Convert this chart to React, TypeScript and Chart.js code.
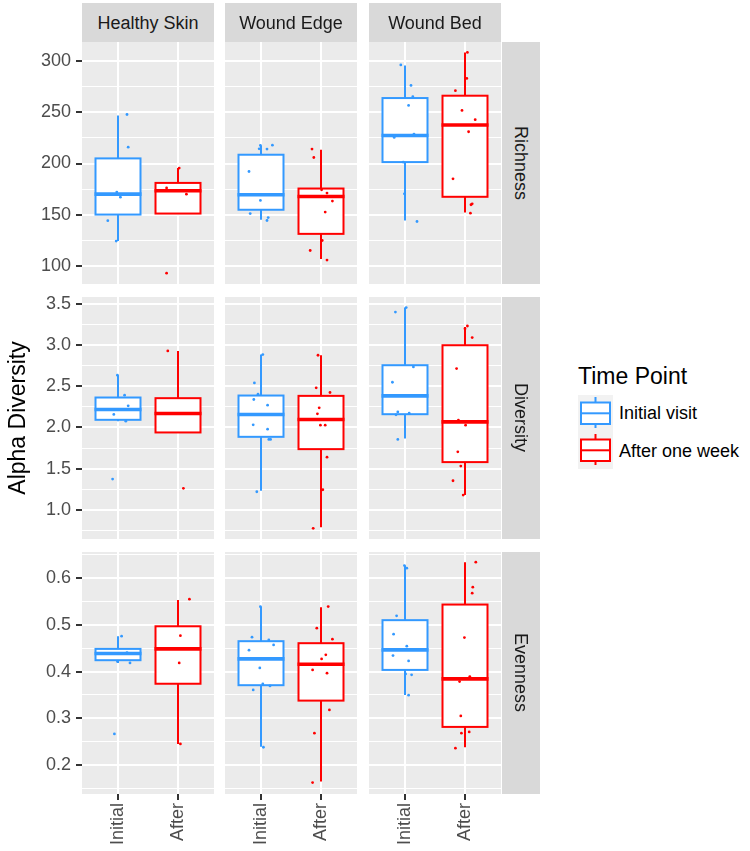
import React, { useEffect, useRef } from "react";
import { Chart, registerables } from "chart.js";

Chart.register(...registerables);

const FONT = "'Liberation Sans', Arial, Helvetica, sans-serif";

const sites = ["Healthy Skin", "Wound Edge", "Wound Bed"];
const metrics = ["Richness", "Diversity", "Evenness"];
const groups = ["Initial", "After"];
const legendLabels = ["Initial visit", "After one week"];
const groupColors = ["#3399FF", "#FF0000"];

// y-axis ranges per metric row
const richnessRange = [82, 319];
const diversityRange = [0.65, 3.58];
const evennessRange = [0.138, 0.656];

const richnessMajor = [100, 150, 200, 250, 300];
const richnessMinor = [125, 175, 225, 275];
const richnessLabels = ["100", "150", "200", "250", "300"];
const diversityMajor = [1.0, 1.5, 2.0, 2.5, 3.0, 3.5];
const diversityMinor = [0.75, 1.25, 1.75, 2.25, 2.75, 3.25];
const diversityLabels = ["1.0", "1.5", "2.0", "2.5", "3.0", "3.5"];
const evennessMajor = [0.2, 0.3, 0.4, 0.5, 0.6];
const evennessMinor = [0.15, 0.25, 0.35, 0.45, 0.55, 0.65];
const evennessLabels = ["0.2", "0.3", "0.4", "0.5", "0.6"];

// box stats per site: [lower whisker, Q1, median, Q3, upper whisker]
const richnessInitialBox = [
  [124, 150, 170, 205, 247],
  [145, 154.7, 169.4, 208.6, 217.7],
  [144.2, 201.4, 227.5, 264.1, 296.1],
];
const richnessAfterBox = [
  [151, 151, 173.3, 181, 195.5],
  [106.4, 131.1, 167.7, 175.5, 213.5],
  [152, 167.4, 237.7, 266.4, 308.8],
];
const diversityInitialBox = [
  [2.077, 2.093, 2.218, 2.363, 2.633],
  [1.234, 1.887, 2.157, 2.387, 2.883],
  [1.867, 2.161, 2.383, 2.754, 3.452],
];
const diversityAfterBox = [
  [1.94, 1.94, 2.17, 2.355, 2.927],
  [0.791, 1.738, 2.097, 2.383, 2.875],
  [1.182, 1.581, 2.068, 2.996, 3.217],
];
const evennessInitialBox = [
  [0.4186, 0.4244, 0.4386, 0.4486, 0.4758],
  [0.2394, 0.3709, 0.4272, 0.4651, 0.5392],
  [0.3501, 0.4036, 0.4465, 0.5101, 0.627],
];
const evennessAfterBox = [
  [0.245, 0.374, 0.4486, 0.497, 0.5535],
  [0.1645, 0.3379, 0.4158, 0.4608, 0.5379],
  [0.2381, 0.2816, 0.3844, 0.5435, 0.6343],
];

// individual samples per site
const richnessInitialPts = [
  [248, 216, 172, 167, 144, 124],
  [218, 214.4, 214.1, 217.7, 192.2, 163.8, 151, 147.1, 144.2],
  [296.5, 276.5, 265.4, 256.9, 225.5, 228.8, 201.4, 170.3, 143.2],
];
const richnessInitialJitter = [
  [0.15, 0.17, -0.02, 0.04, -0.17, -0.03],
  [0.19, -0.03, 0.1, -0.01, -0.2, -0.01, -0.18, 0.12, 0.1],
  [-0.07, 0.1, 0.13, 0.06, -0.18, 0.15, -0.03, -0.01, 0.2],
];
const richnessAfterPts = [
  [195.5, 176, 170, 92.6],
  [214.1, 205.9, 174.3, 171, 163.2, 152.4, 124.6, 114.8, 105.4],
  [308.8, 283.3, 271.3, 252, 242.9, 231.1, 185, 160.5, 159.6, 151.4],
];
const richnessAfterJitter = [
  [0.02, -0.19, 0.14, -0.19],
  [-0.15, -0.12, 0.01, 0.1, 0.19, 0.07, 0.02, -0.18, 0.1],
  [0.04, 0.03, -0.16, -0.05, 0.17, 0.06, -0.2, 0.12, 0.1, 0.09],
];
const diversityInitialPts = [
  [2.633, 2.391, 2.262, 2.158, 2.077, 1.376],
  [2.883, 2.54, 2.403, 2.339, 2.27, 2.032, 1.98, 1.856, 1.856, 1.222],
  [3.398, 2.733, 2.548, 2.189, 2.174, 2.153, 1.855, 3.452],
];
const diversityInitialJitter = [
  [-0.01, 0.11, 0.17, -0.07, 0.13, -0.09],
  [0.03, -0.11, -0.05, -0.12, 0.11, -0.13, 0.11, 0.13, 0.16, -0.07],
  [-0.16, 0.14, -0.21, -0.12, 0.07, -0.15, -0.12, 0.02],
];
const diversityAfterPts = [
  [2.927, 1.263],
  [2.875, 2.48, 2.424, 2.238, 2.165, 2.028, 2.028, 1.641, 1.246, 0.779],
  [3.229, 3.197, 3.089, 2.714, 2.089, 2.028, 1.706, 1.533, 1.355, 1.182],
];
const diversityAfterJitter = [
  [-0.17, 0.09],
  [-0.05, -0.08, 0.15, -0.03, -0.06, -0.01, 0.07, 0.1, 0.03, -0.13],
  [0.04, 0.0, 0.12, -0.14, -0.11, 0.01, -0.12, -0.07, -0.2, -0.03],
];
const evennessInitialPts = [
  [0.4758, 0.4407, 0.4214, 0.4186, 0.2666],
  [0.4737, 0.4679, 0.4572, 0.4458, 0.4079, 0.3737, 0.3694, 0.3608, 0.2381, 0.539],
  [0.627, 0.6214, 0.5193, 0.48, 0.4544, 0.4343, 0.4229, 0.395, 0.393, 0.3495],
];
const evennessInitialJitter = [
  [0.06, 0.15, -0.01, 0.2, -0.06],
  [-0.15, 0.13, 0.21, -0.2, -0.02, 0.03, 0.15, -0.13, 0.04, -0.01],
  [-0.01, 0.03, -0.14, -0.19, 0.03, -0.2, 0.06, 0.01, 0.11, 0.06],
];
const evennessAfterPts = [
  [0.555, 0.477, 0.4186, 0.2452],
  [0.5392, 0.4929, 0.4694, 0.4358, 0.4272, 0.4036, 0.3966, 0.318, 0.2681, 0.1624],
  [0.6343, 0.5807, 0.5679, 0.4728, 0.3893, 0.3786, 0.3051, 0.2681, 0.2709, 0.236],
];
const evennessAfterJitter = [
  [0.19, 0.04, 0.02, 0.04],
  [0.12, -0.07, 0.19, 0.08, 0.01, -0.14, 0.1, 0.14, -0.11, -0.14],
  [0.18, 0.13, 0.12, -0.01, 0.08, -0.09, -0.07, -0.06, 0.07, -0.16],
];

const rowDefs = [
  {
    range: richnessRange, major: richnessMajor, minor: richnessMinor, labels: richnessLabels,
    boxes: [richnessInitialBox, richnessAfterBox],
    pts: [richnessInitialPts, richnessAfterPts],
    jit: [richnessInitialJitter, richnessAfterJitter],
  },
  {
    range: diversityRange, major: diversityMajor, minor: diversityMinor, labels: diversityLabels,
    boxes: [diversityInitialBox, diversityAfterBox],
    pts: [diversityInitialPts, diversityAfterPts],
    jit: [diversityInitialJitter, diversityAfterJitter],
  },
  {
    range: evennessRange, major: evennessMajor, minor: evennessMinor, labels: evennessLabels,
    boxes: [evennessInitialBox, evennessAfterBox],
    pts: [evennessInitialPts, evennessAfterPts],
    jit: [evennessInitialJitter, evennessAfterJitter],
  },
];

// layout
const colLeft = [82, 225, 369];
const rowTop = [42, 297, 552];
const panelW = 132;
const panelH = 242;
const PAD = 20;
const YAXIS_W = 52;
const XAXIS_H = 57;
const BOX_HALF = 0.375;

function makeBoxPlugin(items: { pos: number; stats: number[]; color: string }[]) {
  return {
    id: "boxes",
    beforeDraw(chart: any) {
      const { ctx, chartArea: a } = chart;
      ctx.save();
      ctx.fillStyle = "#EBEBEB";
      ctx.fillRect(a.left, a.top, a.right - a.left, a.bottom - a.top);
      ctx.restore();
    },
    beforeDatasetsDraw(chart: any) {
      const { ctx, scales } = chart;
      const xs = scales.x;
      const ys = scales.y;
      ctx.save();
      items.forEach(({ pos, stats, color }) => {
        const [lo, q1, med, q3, hi] = stats;
        const xc = xs.getPixelForValue(pos);
        const xl = xs.getPixelForValue(pos - BOX_HALF);
        const xr = xs.getPixelForValue(pos + BOX_HALF);
        const yLo = ys.getPixelForValue(lo);
        const yQ1 = ys.getPixelForValue(q1);
        const yMed = ys.getPixelForValue(med);
        const yQ3 = ys.getPixelForValue(q3);
        const yHi = ys.getPixelForValue(hi);
        ctx.strokeStyle = color;
        ctx.lineWidth = 2;
        ctx.beginPath();
        ctx.moveTo(xc, yHi);
        ctx.lineTo(xc, yQ3);
        ctx.moveTo(xc, yQ1);
        ctx.lineTo(xc, yLo);
        ctx.stroke();
        ctx.fillStyle = "#FFFFFF";
        ctx.fillRect(xl, yQ3, xr - xl, yQ1 - yQ3);
        ctx.strokeRect(xl, yQ3, xr - xl, yQ1 - yQ3);
        ctx.lineWidth = 3.6;
        ctx.beginPath();
        ctx.moveTo(xl - 1, yMed);
        ctx.lineTo(xr + 1, yMed);
        ctx.stroke();
      });
      ctx.restore();
    },
  };
}

function Panel({ r, c }: { r: number; c: number }) {
  const ref = useRef<HTMLCanvasElement>(null);
  const isLeft = c === 0;
  const isBottom = r === 2;
  const left = colLeft[c] - (isLeft ? YAXIS_W : PAD);
  const top = rowTop[r] - PAD;
  const width = colLeft[c] + panelW + PAD - left;
  const height = rowTop[r] + panelH + (isBottom ? XAXIS_H : PAD) - top;

  useEffect(() => {
    const def = rowDefs[r];
    const isMajor = (v: number) => def.major.some((t) => Math.abs(t - v) < 1e-9);
    const allTicks = [...def.major, ...def.minor].sort((a, b) => a - b);
    const items = groups.map((g, gi) => ({
      pos: gi + 1,
      stats: def.boxes[gi][c],
      color: groupColors[gi],
    }));
    const datasets = groups.map((g, gi) => ({
      label: legendLabels[gi],
      data: def.pts[gi][c].map((v: number, i: number) => ({ x: gi + 1 + def.jit[gi][c][i], y: v })),
      backgroundColor: groupColors[gi],
      borderWidth: 0,
      pointRadius: 1.4,
      pointHoverRadius: 1.4,
    }));
    const chart = new Chart(ref.current as HTMLCanvasElement, {
      type: "scatter",
      data: { datasets },
      options: {
        responsive: false,
        animation: false,
        events: [],
        layout: {
          padding: {
            left: isLeft ? 0 : PAD,
            right: PAD,
            top: PAD,
            bottom: isBottom ? 0 : PAD,
          },
        },
        plugins: { legend: { display: false }, tooltip: { enabled: false } },
        scales: {
          x: {
            type: "linear",
            min: 0.4,
            max: 2.6,
            afterBuildTicks: (s: any) => {
              s.ticks = groups.map((g, i) => ({ value: i + 1 }));
            },
            afterFit: (s: any) => {
              s.height = isBottom ? XAXIS_H : 0;
            },
            border: { display: false },
            grid: {
              color: "#FFFFFF",
              lineWidth: 2,
              drawTicks: isBottom,
              tickLength: 6,
              tickColor: "#333333",
              tickWidth: 2,
            },
            ticks: {
              display: isBottom,
              autoSkip: false,
              minRotation: 90,
              maxRotation: 90,
              padding: 3,
              color: "#4D4D4D",
              font: { family: FONT, size: 18 },
              callback: (v: any) => {
                const i = Math.round(Number(v)) - 1;
                return groups[i] ?? "";
              },
            },
          },
          y: {
            type: "linear",
            min: def.range[0],
            max: def.range[1],
            afterBuildTicks: (s: any) => {
              s.ticks = allTicks.map((v) => ({ value: v }));
            },
            afterFit: (s: any) => {
              s.width = isLeft ? YAXIS_W : 0;
            },
            border: { display: false },
            grid: {
              color: "#FFFFFF",
              lineWidth: (ctx: any) => (ctx.tick && isMajor(ctx.tick.value) ? 2 : 1),
              drawTicks: isLeft,
              tickLength: 6,
              tickColor: (ctx: any) => (ctx.tick && isMajor(ctx.tick.value) ? "#333333" : "rgba(0,0,0,0)"),
              tickWidth: 2,
            },
            ticks: {
              display: isLeft,
              autoSkip: false,
              padding: 5,
              color: "#4D4D4D",
              font: { family: FONT, size: 18 },
              callback: (v: any) => {
                const i = def.major.findIndex((t) => Math.abs(t - Number(v)) < 1e-9);
                return i >= 0 ? def.labels[i] : "";
              },
            },
          },
        },
      },
      plugins: [makeBoxPlugin(items)],
    } as any);
    return () => chart.destroy();
  }, [r, c]);

  return (
    <canvas
      ref={ref}
      width={width}
      height={height}
      style={{ position: "absolute", left, top, width, height }}
    />
  );
}

function LegendKey({ color, top }: { color: string; top: number }) {
  return (
    <svg width={35} height={37} style={{ position: "absolute", left: 578, top }}>
      <rect x={0} y={0} width={35} height={37} fill="#F2F2F2" />
      <line x1={17.5} y1={2} x2={17.5} y2={7.5} stroke={color} strokeWidth={2} />
      <line x1={17.5} y1={29} x2={17.5} y2={33} stroke={color} strokeWidth={2} />
      <rect x={3} y={7.5} width={29} height={21.5} fill="#FFFFFF" stroke={color} strokeWidth={2} />
      <line x1={3} y1={18.3} x2={32} y2={18.3} stroke={color} strokeWidth={2} />
    </svg>
  );
}

export default function App() {
  const cells: React.ReactNode[] = [];
  metrics.forEach((m, r) => {
    sites.forEach((s, c) => {
      cells.push(<Panel key={`${r}-${c}`} r={r} c={c} />);
    });
  });
  return (
    <div
      style={{
        position: "absolute",
        left: 0,
        top: 0,
        width: 750,
        height: 851,
        background: "#FFFFFF",
        fontFamily: FONT,
        overflow: "hidden",
      }}
    >
      {cells}
      {sites.map((s, c) => (
        <div
          key={s}
          style={{
            position: "absolute",
            left: colLeft[c],
            top: 3,
            width: panelW,
            height: 39,
            background: "#D9D9D9",
            color: "#1A1A1A",
            fontSize: 18,
            display: "flex",
            alignItems: "center",
            justifyContent: "center",
            paddingTop: 2,
            boxSizing: "border-box",
            whiteSpace: "nowrap",
          }}
        >
          {s}
        </div>
      ))}
      {metrics.map((m, r) => (
        <div
          key={m}
          style={{
            position: "absolute",
            left: 502,
            top: rowTop[r],
            width: 37.5,
            height: panelH,
            background: "#D9D9D9",
            color: "#1A1A1A",
            fontSize: 18,
            display: "flex",
            alignItems: "center",
            justifyContent: "center",
            writingMode: "vertical-rl",
            whiteSpace: "nowrap",
          }}
        >
          {m}
        </div>
      ))}
      <div
        style={{
          position: "absolute",
          left: 17,
          top: 418,
          transform: "translate(-50%, -50%) rotate(-90deg)",
          fontSize: 23,
          lineHeight: "23px",
          color: "#000000",
          whiteSpace: "nowrap",
        }}
      >
        Alpha Diversity
      </div>
      <div
        style={{
          position: "absolute",
          left: 578,
          top: 365,
          fontSize: 23,
          lineHeight: "23px",
          color: "#000000",
          whiteSpace: "nowrap",
        }}
      >
        Time Point
      </div>
      {legendLabels.map((lab, i) => (
        <React.Fragment key={lab}>
          <LegendKey color={groupColors[i]} top={395 + i * 37} />
          <div
            style={{
              position: "absolute",
              left: 619,
              top: 404 + i * 38,
              fontSize: 18,
              lineHeight: "18px",
              color: "#000000",
              whiteSpace: "nowrap",
            }}
          >
            {lab}
          </div>
        </React.Fragment>
      ))}
    </div>
  );
}
